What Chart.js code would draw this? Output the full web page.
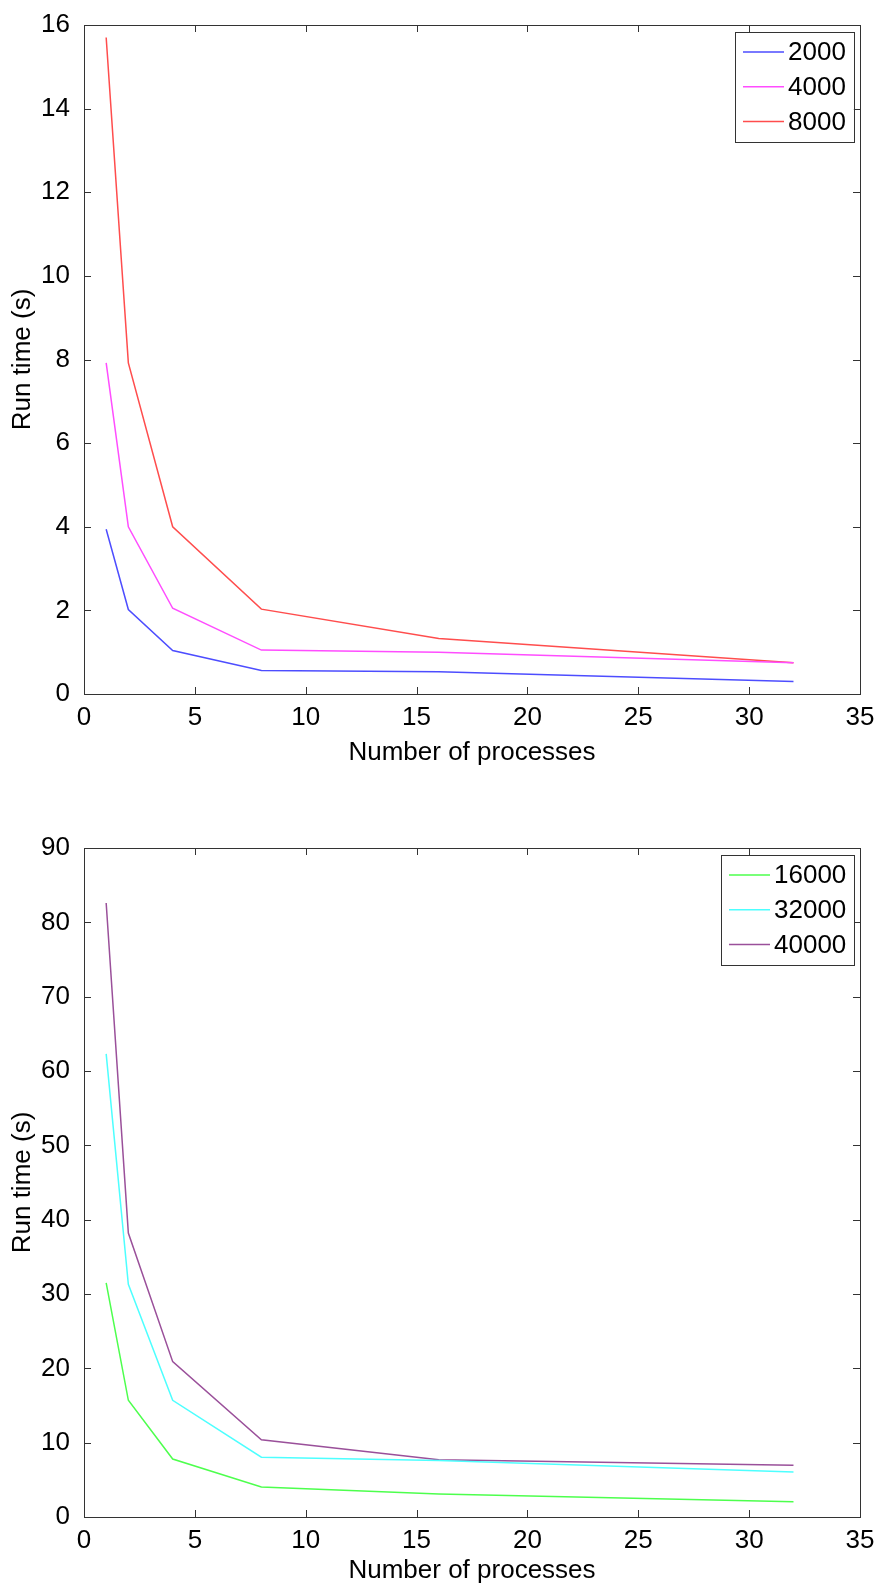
<!DOCTYPE html>
<html>
<head>
<meta charset="utf-8">
<script src="https://cdn.jsdelivr.net/npm/chart.js@4"></script>
<style>
  body { margin: 0; background: #fff; }
  canvas { position: absolute; left: 0; }
  #top { top: 0; }
  #bottom { top: 780px; }
</style>
</head>
<body>
<canvas id="top" width="879" height="770"></canvas>
<canvas id="bottom" width="879" height="806"></canvas>
<script>
const procs = [1, 2, 4, 8, 16, 32];
const xTicks = [0, 5, 10, 15, 20, 25, 30, 35];

const smallLabels = ['2000', '4000', '8000'];
const run2000 = [3.94, 2.02, 1.04, 0.56, 0.53, 0.30];
const run4000 = [7.92, 4.0, 2.05, 1.05, 1.0, 0.75];
const run8000 = [15.7, 7.92, 4.0, 2.03, 1.33, 0.75];

const bigLabels = ['16000', '32000', '40000'];
const run16000 = [31.5, 15.7, 7.8, 4.05, 3.1, 2.05];
const run32000 = [62.3, 31.3, 15.7, 8.05, 7.6, 6.05];
const run40000 = [82.6, 38.2, 20.9, 10.4, 7.7, 6.95];

const FONT = 'Liberation Sans, Arial, Helvetica, sans-serif';

// MATLAB-ish box with ticks pointing inward, plus boxed legend top right
const matlabBox = {
  id: 'matlabBox',
  afterDraw(chart) {
    const ctx = chart.ctx;
    const a = chart.chartArea;
    const xs = chart.scales.x, ys = chart.scales.y;
    const len = 7;
    ctx.save();
    ctx.strokeStyle = '#333';
    ctx.lineWidth = 1;
    ctx.strokeRect(Math.round(a.left) + 0.5, Math.round(a.top) + 0.5,
      Math.round(a.right - a.left), Math.round(a.bottom - a.top));
    ctx.beginPath();
    xs.ticks.forEach(t => {
      const px = Math.round(xs.getPixelForValue(t.value)) + 0.5;
      ctx.moveTo(px, a.bottom); ctx.lineTo(px, a.bottom - len);
      ctx.moveTo(px, a.top); ctx.lineTo(px, a.top + len);
    });
    ys.ticks.forEach(t => {
      const py = Math.round(ys.getPixelForValue(t.value)) + 0.5;
      ctx.moveTo(a.left, py); ctx.lineTo(a.left + len, py);
      ctx.moveTo(a.right, py); ctx.lineTo(a.right - len, py);
    });
    ctx.stroke();

    // legend
    const sets = chart.data.datasets;
    ctx.font = '26px ' + FONT;
    const tw = Math.max(...sets.map(d => ctx.measureText(d.label).width));
    const w = 8 + 41 + 4 + tw + 8;
    const h = 110;
    const bx = Math.round(a.right - 6 - w), by = Math.round(a.top + 7);
    ctx.fillStyle = '#fff';
    ctx.fillRect(bx, by, w, h);
    ctx.strokeRect(bx + 0.5, by + 0.5, Math.round(w), h);
    ctx.textBaseline = 'middle';
    ctx.textAlign = 'left';
    sets.forEach((d, i) => {
      const cy = by + 20 + i * 34.7;
      ctx.strokeStyle = d.borderColor;
      ctx.lineWidth = 1.5;
      ctx.beginPath();
      ctx.moveTo(bx + 8, cy); ctx.lineTo(bx + 49, cy);
      ctx.stroke();
      ctx.fillStyle = '#000';
      ctx.fillText(d.label, bx + 53, cy + 1);
    });
    ctx.restore();
  }
};

function makeChart(id, labels, series, colors, yMax, yStep, padTop, xHeight, xTitlePad) {
  new Chart(document.getElementById(id), {
    type: 'line',
    data: {
      datasets: series.map((s, i) => ({
        label: labels[i],
        data: procs.map((p, j) => ({ x: p, y: s[j] })),
        borderColor: colors[i],
        borderWidth: 1.5,
        pointRadius: 0,
        tension: 0,
        fill: false
      }))
    },
    options: {
      responsive: false,
      animation: false,
      devicePixelRatio: 1,
      layout: { padding: { top: padTop, right: 19, left: 0, bottom: 0 } },
      plugins: { legend: { display: false }, tooltip: { enabled: false } },
      scales: {
        x: {
          type: 'linear', min: 0, max: 35,
          afterBuildTicks: s => { s.ticks = xTicks.map(v => ({ value: v })); },
          afterFit: s => { s.height = xHeight; },
          grid: { display: false }, border: { display: false },
          ticks: { color: '#000', padding: 3, font: { family: FONT, size: 26, lineHeight: 1 } },
          title: { display: true, text: 'Number of processes', color: '#000',
            padding: { top: 0, bottom: xTitlePad }, font: { family: FONT, size: 26 } }
        },
        y: {
          min: 0, max: yMax,
          ticks: { stepSize: yStep, color: '#000', padding: 6, font: { family: FONT, size: 26 } },
          afterFit: s => { s.width = 84; },
          grid: { display: false }, border: { display: false },
          title: { display: true, text: 'Run time (s)', color: '#000',
            padding: { top: 7, bottom: 0 }, font: { family: FONT, size: 26 } }
        }
      }
    },
    plugins: [matlabBox]
  });
}

makeChart('top', smallLabels, [run2000, run4000, run8000],
  ['#4d4dff', '#ff4dff', '#ff4d4d'], 16, 2, 25, 76, 2);
makeChart('bottom', bigLabels, [run16000, run32000, run40000],
  ['#4dff4d', '#4dffff', '#9a509a'], 90, 10, 68, 69, 0);
</script>
</body>
</html>
